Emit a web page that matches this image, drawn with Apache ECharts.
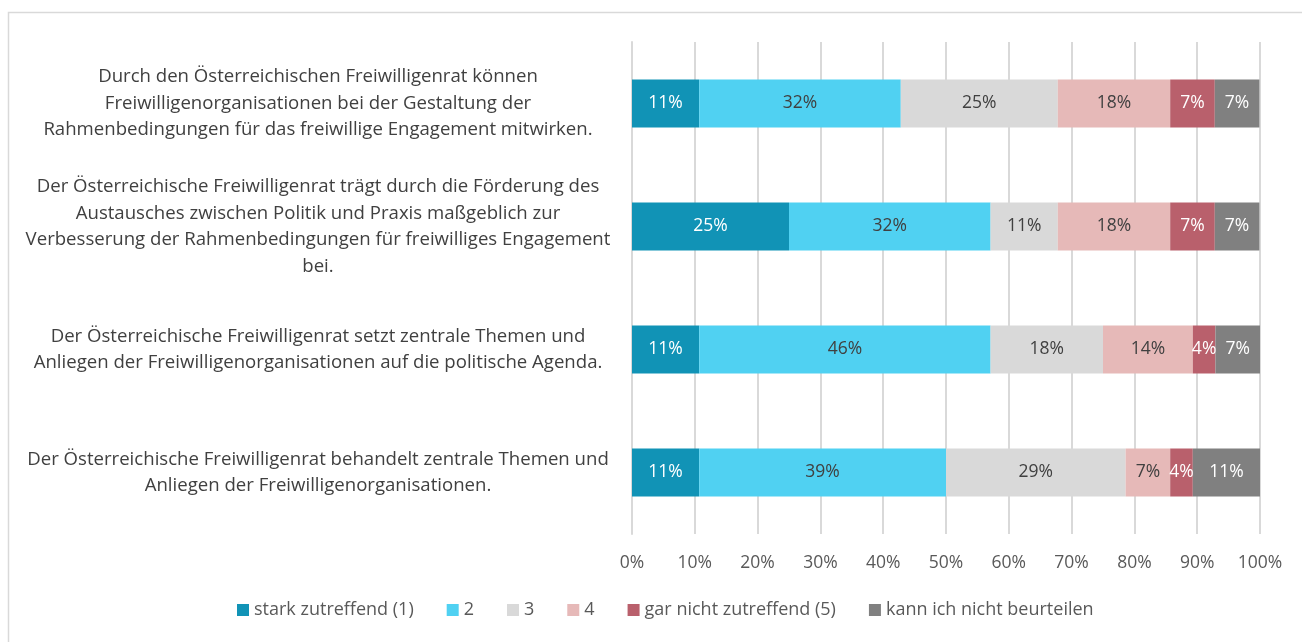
<!DOCTYPE html>
<html>
<head>
<meta charset="utf-8">
<script src="https://cdn.jsdelivr.net/npm/echarts@6/dist/echarts.min.js"></script>
<style>
    html, body { margin: 0; padding: 0; background: #ffffff; }
    #chart { width: 1302px; height: 642px; }
</style>
</head>
<body>
<div id="chart"></div>
<script>
// statements, top row first
var categories = [
    "Durch den Österreichischen Freiwilligenrat können\nFreiwilligenorganisationen bei der Gestaltung der\nRahmenbedingungen für das freiwillige Engagement mitwirken.",
    "Der Österreichische Freiwilligenrat trägt durch die Förderung des\nAustausches zwischen Politik und Praxis maßgeblich zur\nVerbesserung der Rahmenbedingungen für freiwilliges Engagement\nbei.",
    "Der Österreichische Freiwilligenrat setzt zentrale Themen und\nAnliegen der Freiwilligenorganisationen auf die politische Agenda.",
    "Der Österreichische Freiwilligenrat behandelt zentrale Themen und\nAnliegen der Freiwilligenorganisationen."
];
var seriesNames = ["stark zutreffend (1)", "2", "3", "4", "gar nicht zutreffend (5)", "kann ich nicht beurteilen"];
// shares in percent, same order as categories
var s1 = [10.7, 25.0, 10.7, 10.7];
var s2 = [32.1, 32.1, 46.4, 39.3];
var s3 = [25.0, 10.7, 17.9, 28.6];
var s4 = [17.9, 17.9, 14.3, 7.1];
var s5 = [7.1, 7.1, 3.6, 3.6];
var s6 = [7.1, 7.1, 7.1, 10.7];
var xTicks = [0, 10, 20, 30, 40, 50, 60, 70, 80, 90, 100];

var colors = ["#1193b6", "#50d1f2", "#d9d9d9", "#e6b9b8", "#b9606c", "#808080"];
var labelColors = ["#ffffff", "#404040", "#404040", "#404040", "#ffffff", "#ffffff"];
var fontFamily = "Open Sans";

var chart = echarts.init(document.getElementById("chart"));

var values = [s1, s2, s3, s4, s5, s6];
var series = [];
for (let i = 0; i < values.length; i++) {
    series.push({
        name: seriesNames[i],
        type: "bar",
        stack: "total",
        barWidth: 48,
        data: values[i],
        itemStyle: { color: colors[i] },
        label: {
            show: true,
            position: "inside",
            color: labelColors[i],
            fontFamily: fontFamily,
            fontSize: 17.5,
            formatter: function (p) { return Math.round(p.value) + "%"; }
        }
    });
}

var option = {
    backgroundColor: "#ffffff",
    animation: false,
    graphic: [{
        type: "rect",
        shape: { x: 8.5, y: 12.5, width: 1310, height: 650 },
        style: { fill: "none", stroke: "#d9d9d9", lineWidth: 1.5 },
        silent: true
    }],
    legend: {
        data: seriesNames,
        bottom: 18,
        left: 232,
        icon: "rect",
        itemWidth: 12,
        itemHeight: 12,
        itemGap: 33,
        textStyle: { color: "#595959", fontFamily: fontFamily, fontSize: 18 }
    },
    grid: { left: 632, right: 42, top: 42, bottom: 108, containLabel: false },
    xAxis: {
        type: "value",
        min: 0,
        max: 100,
        interval: 10,
        axisLine: { show: false },
        axisTick: { show: false },
        splitLine: { lineStyle: { color: "#d9d9d9", width: 2 } },
        axisLabel: {
            color: "#595959",
            fontFamily: fontFamily,
            fontSize: 17.5,
            margin: 20,
            formatter: function (v) { return xTicks.indexOf(v) >= 0 ? v + "%" : ""; }
        }
    },
    yAxis: {
        type: "category",
        inverse: true,
        data: categories,
        axisLine: { show: true, lineStyle: { color: "#d9d9d9", width: 2 } },
        axisTick: { show: false },
        axisLabel: {
            color: "#404040",
            fontFamily: fontFamily,
            fontSize: 18.6,
            lineHeight: 26.5,
            align: "center",
            margin: 314
        }
    },
    series: series
};

chart.setOption(option);
</script>
</body>
</html>
